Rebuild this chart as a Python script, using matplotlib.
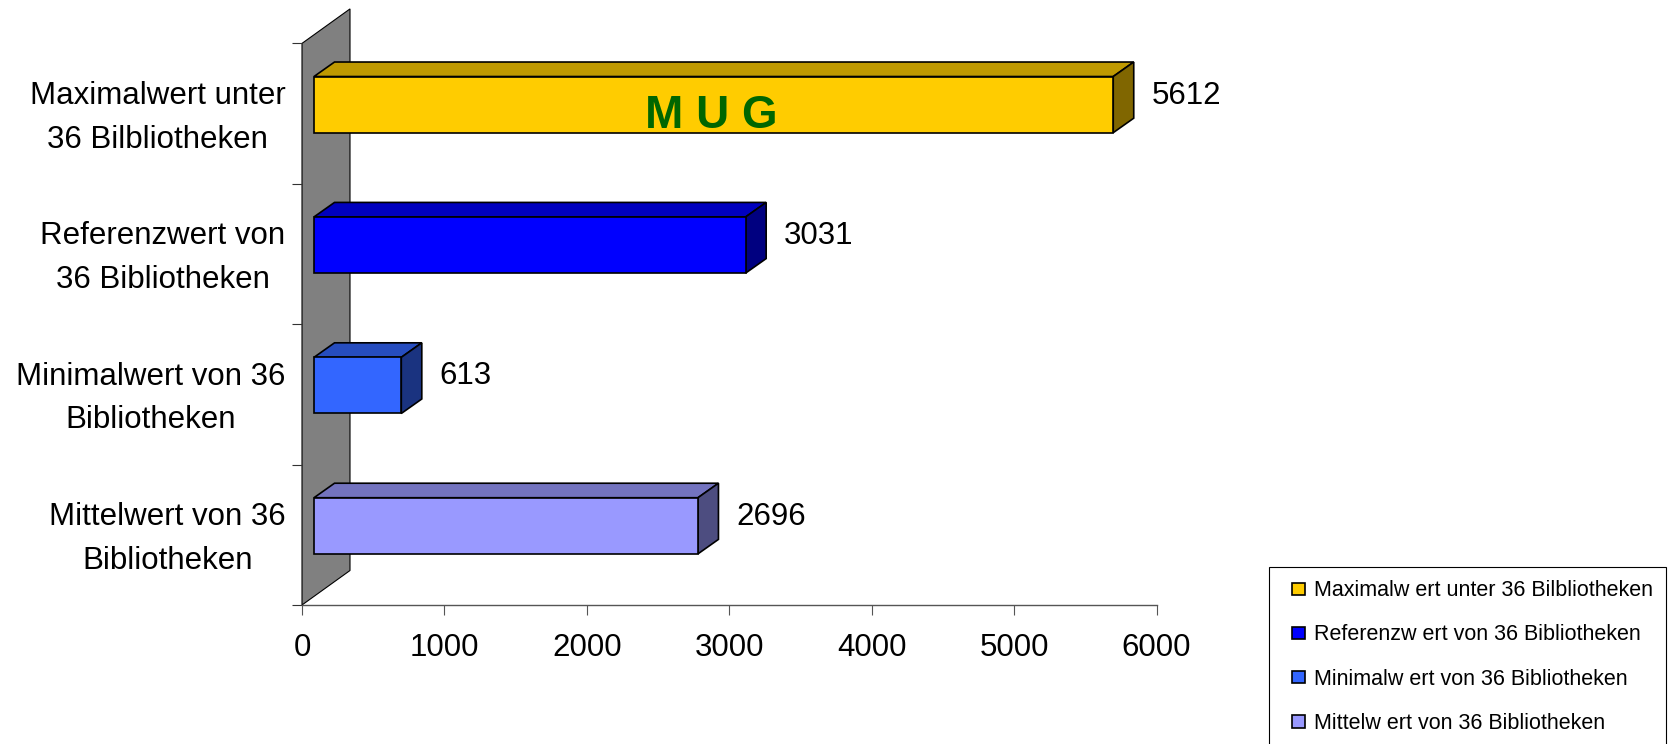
from __future__ import annotations

import matplotlib

matplotlib.use("Agg")
import matplotlib.pyplot as plt
from matplotlib.colors import to_rgb
from matplotlib.legend_handler import HandlerPatch
from matplotlib.patches import Patch, Polygon, Rectangle

plt.rcParams["font.family"] = ["Liberation Sans", "DejaVu Sans"]

CATEGORIES = [
    "Maximalwert unter\n36 Bilbliotheken",
    "Referenzwert von\n36 Bibliotheken",
    "Minimalwert von 36\nBibliotheken",
    "Mittelwert von 36\nBibliotheken",
]
LEGEND_LABELS = [
    "Maximalw ert unter 36 Bilbliotheken",
    "Referenzw ert von 36 Bibliotheken",
    "Minimalw ert von 36 Bibliotheken",
    "Mittelw ert von 36 Bibliotheken",
]
VALUES = [5612, 3031, 613, 2696]
COLORS = ["#FFCC00", "#0000FF", "#3366FF", "#9999FF"]
X_TICKS = [0, 1000, 2000, 3000, 4000, 5000, 6000]
HIGHLIGHT = "M U G"

# fake 3d look, offsets in pixels (right, up)
WALL_DEPTH = (48, 34.5)
BAR_FRONT = (12, 9)
BAR_DEPTH = (20.5, 14.5)
BAR_HEIGHT = 0.4

W, H, DPI = 1671, 744, 100


def shade(color: str, factor: float) -> tuple[float, float, float]:
    r, g, b = to_rgb(color)
    return (r * factor, g * factor, b * factor)


def square_handle(legend, orig_handle, xdescent, ydescent, width, height, fontsize):
    size = 8.8
    return Rectangle((-xdescent + width - size, -ydescent + (height - size) / 2), size, size)


def main() -> None:
    fig = plt.figure(figsize=(W / DPI, H / DPI), dpi=DPI)
    ax = fig.add_axes([302 / W, (H - 605) / H, 854.5 / W, 561.6 / H])
    ax.set_xlim(0, 6000)
    ax.set_ylim(3.5, -0.5)

    # data units per pixel
    ux = 6000 / 854.5
    uy = 4 / 561.6

    def shift(x: float, y: float, off: tuple[float, float]) -> tuple[float, float]:
        return x + off[0] * ux, y - off[1] * uy

    # back wall
    wall = [(0, 3.5), (0, -0.5), shift(0, -0.5, WALL_DEPTH), shift(0, 3.5, WALL_DEPTH)]
    ax.add_patch(Polygon(wall, closed=True, facecolor="#808080", edgecolor="black",
                         linewidth=0.8, zorder=1, clip_on=False))

    edge = dict(edgecolor="black", linewidth=1.2, clip_on=False)
    for i, (value, color) in enumerate(zip(VALUES, COLORS)):
        top = i - BAR_HEIGHT / 2
        bottom = i + BAR_HEIGHT / 2
        fx, fy = shift(0, i, BAR_FRONT)
        ax.barh(fy, value, left=fx, height=BAR_HEIGHT, color=color, zorder=3, **edge)

        back = (BAR_FRONT[0] + BAR_DEPTH[0], BAR_FRONT[1] + BAR_DEPTH[1])
        top_face = [shift(0, top, BAR_FRONT), shift(value, top, BAR_FRONT),
                    shift(value, top, back), shift(0, top, back)]
        side_face = [shift(value, bottom, BAR_FRONT), shift(value, top, BAR_FRONT),
                     shift(value, top, back), shift(value, bottom, back)]
        ax.add_patch(Polygon(top_face, closed=True, facecolor=shade(color, 0.75), zorder=2, **edge))
        ax.add_patch(Polygon(side_face, closed=True, facecolor=shade(color, 0.5), zorder=2, **edge))

        ax.annotate(str(value), xy=(value, i), xytext=(36, 13), textcoords="offset points",
                    ha="left", va="center", fontsize=22.5)

    ax.annotate(HIGHLIGHT, xy=(VALUES[0] / 2, 0), xytext=(7, -1.5), textcoords="offset points",
                ha="center", va="center", fontsize=33, fontweight="bold", color="#006600", zorder=5)

    # category labels
    for i, label in enumerate(CATEGORIES):
        ax.annotate(label, xy=(0, i), xycoords=ax.get_yaxis_transform(), xytext=(-11.8, -3),
                    textcoords="offset points", ha="right", va="center", fontsize=22.5,
                    linespacing=1.6, multialignment="center")

    ax.set_yticks([])
    ax.set_yticks([-0.5, 0.5, 1.5, 2.5, 3.5], minor=True)
    ax.tick_params(axis="y", which="minor", length=7.2, width=0.8, color="#333333", direction="out")
    ax.set_xticks(X_TICKS)
    ax.tick_params(axis="x", length=7.2, width=0.8, color="#555555", labelsize=22.5, pad=13)

    for side in ("top", "right", "left"):
        ax.spines[side].set_visible(False)
    ax.spines["bottom"].set_color("#555555")
    ax.spines["bottom"].set_linewidth(1.0)
    ax.patch.set_visible(False)

    handles = [Patch(facecolor=c, edgecolor="black", linewidth=1.2) for c in COLORS]
    legend = fig.legend(handles, LEGEND_LABELS, loc="upper left",
                        bbox_to_anchor=(1269 / W, 1 - 567.3 / H), borderaxespad=0,
                        fancybox=False, edgecolor="black", framealpha=1, fontsize=15.5,
                        handlelength=1.05, handleheight=0.65, handletextpad=0.45,
                        labelspacing=1.08, borderpad=0.6,
                        handler_map={Patch: HandlerPatch(patch_func=square_handle)})
    legend.get_frame().set_linewidth(0.8)

    fig.savefig("out.png", dpi=DPI, facecolor="white")
    plt.close(fig)


if __name__ == "__main__":
    main()
